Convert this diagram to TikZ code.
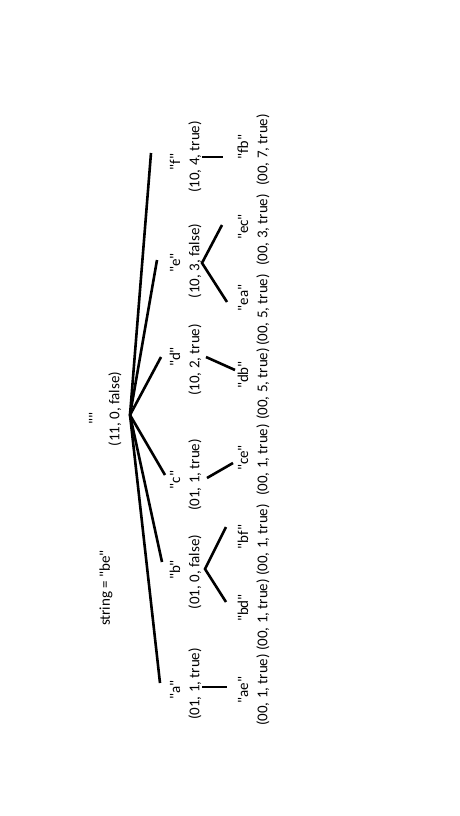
\documentclass[tikz,border=0pt]{standalone}
\usepackage{fontspec}
\setmainfont{Carlito}[Ligatures=TeXOff]
\usepackage{tikz}
\newcommand{\lblfont}{\fontsize{15}{18}\selectfont}
\tikzset{
  lbl/.style={font=\lblfont, rotate=90, inner sep=1pt},
  edge/.style={line width=2.6pt, black}
}

\begin{document}
\begin{tikzpicture}[x=1pt, y=-1pt, every node/.style={lbl}]
        \useasboundingbox (0,0) rectangle (460,816);
        \node (root) at (94,418) {""};
        \node (roottup) at (115,409) {(11, 0, false)};
        \node (query) at (106,588) {string = "be"};
        \coordinate (hub) at (130,415);
        \foreach \k/\yn/\yt/\t/\ex/\ey in {a/690/684/{(01, 1, true)}/160/683, b/570/572/{(01, 0, false)}/162/562,
            c/480/475/{(01, 1, true)}/165/475, d/357/360/{(10, 2, true)}/161/357,
            e/263/261/{(10, 3, false)}/157/260, f/162/157/{(10, 4, true)}/151/153}{
          \node (\k) at (175,\yn) {"\k"};
          \node (\k tup) at (195,\yt) {\t};
          \coordinate (\k end) at (\ex,\ey);
          \draw[edge] (hub) -- (\k end);
        }
        \foreach \k/\yn/\yt/\t in {ae/690/690/{(00, 1, true)}, bd/608/615/{(00, 1, true)},
            bf/537/540/{(00, 1, true)}, ce/458/460/{(00, 1, true)}, db/375/384/{(00, 5, true)},
            ea/298/310/{(00, 5, true)}, ec/227/230/{(00, 3, true)}, fb/147/150/{(00, 7, true)}}{
          \node (\k) at (243,\yn) {"\k"};
          \node (\k tup) at (263,\yt) {\t};
        }
        \coordinate (afork) at (202,687);
        \coordinate (bfork) at (205,569);
        \coordinate (cfork) at (207,478);
        \coordinate (dfork) at (206,357);
        \coordinate (efork) at (202,263);
        \coordinate (ffork) at (202,157);
        \coordinate (aeend) at (227,687);
        \coordinate (bdend) at (226,602);
        \coordinate (bfend) at (226,527);
        \coordinate (ceend) at (233,463);
        \coordinate (dbend) at (235,370);
        \coordinate (eaend) at (227,302);
        \coordinate (ecend) at (222,225);
        \coordinate (fbend) at (223,157);
        \draw[edge] (afork) -- (aeend);
        \draw[edge] (bdend) -- (bfork) -- (bfend);
        \draw[edge] (cfork) -- (ceend);
        \draw[edge] (dfork) -- (dbend);
        \draw[edge] (eaend) -- (efork) -- (ecend);
        \draw[edge] (ffork) -- (fbend);
\end{tikzpicture}
\end{document}
